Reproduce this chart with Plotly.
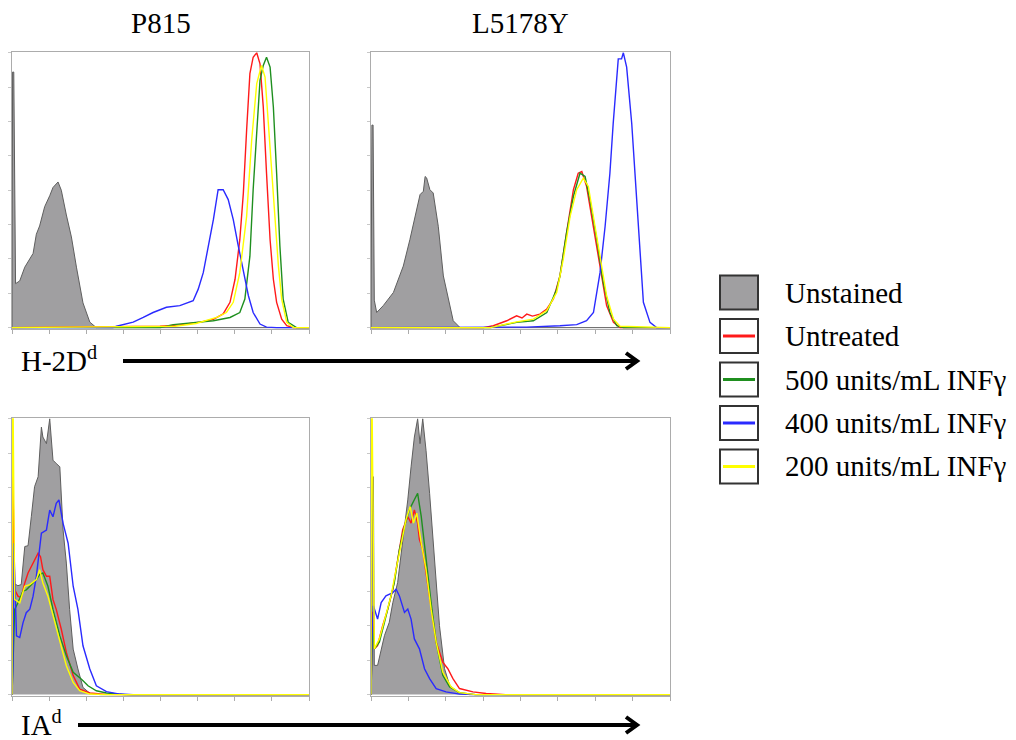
import plotly.graph_objects as go

# ---------------- data (x: channel position 0-100, y: % of max count) ----------------
SERIES = ["Unstained", "Untreated", "500 units/mL INFγ", "400 units/mL INFγ", "200 units/mL INFγ"]
CELL_LINES = ["P815", "L5178Y"]
MARKERS = ["H-2D<sup>d</sup>", "IA<sup>d</sup>"]

# Panel: P815, H-2Dd
P815_H2D_UNST_X = [0, 0.2, 0.6, 1.2, 2.6, 4.3, 7.1, 8.2, 9.3, 11, 12.7, 13.8, 15.5, 16.6, 18.3, 20, 21.7, 23.9, 26.2, 28.4, 100]
P815_H2D_UNST_Y = [0, 93, 93, 16, 17, 22, 27, 34, 37, 44, 48, 51, 53, 50, 41, 33, 22, 9, 2, 0, 0]
P815_H2D_UNTR_X = [0, 49.8, 56.5, 63.3, 67.8, 71.1, 73.4, 75.1, 76.7, 77.9, 79, 80.1, 81.2, 82.4, 83.5, 84.6, 85.7, 86.9, 88, 89.1, 90.8, 92.5, 94.7, 100]
P815_H2D_UNTR_Y = [0, 0.5, 1, 2, 3, 5, 9.2, 17.6, 32, 49, 71.9, 92.4, 98.4, 100, 96, 80.4, 56.2, 32, 17.6, 9.2, 3.1, 0.7, 0, 0]
P815_H2D_500_X = [0, 50, 54.3, 61, 67.8, 73.4, 76.7, 78.4, 80.1, 81.2, 82.4, 83.5, 84.6, 85.7, 86.9, 88, 89.1, 90.2, 91.3, 93, 95.8, 100]
P815_H2D_500_Y = [0, 0, 1.1, 1.7, 2.5, 3.7, 5.5, 10.4, 26, 50.2, 71.9, 90, 95.4, 98.4, 94.8, 80.3, 56.2, 29.7, 10.4, 1.9, 0, 0]
P815_H2D_400_X = [0, 34, 35.2, 40.8, 44.2, 47.5, 52, 56.5, 61, 62.7, 64.4, 66.1, 67.8, 69.4, 71.1, 72.8, 74.5, 76.2, 77.9, 79.6, 81.2, 83.5, 85.7, 89.1, 100]
P815_H2D_400_Y = [0, 0, 0.5, 2, 3.7, 5.5, 7.4, 8, 9.8, 14, 20, 29.7, 39.3, 50.2, 50.2, 46.6, 39.3, 29.7, 20, 11.6, 5.5, 1.3, 0.2, 0, 0]
P815_H2D_200_X = [0, 55, 62, 68.9, 72.2, 74.5, 76.7, 79, 80.7, 82.4, 84, 85.2, 86.3, 88, 89.7, 90.8, 92.5, 94.7, 100]
P815_H2D_200_Y = [0, 0.5, 1.5, 3.7, 5.5, 9.2, 20, 40.5, 68.3, 88.8, 95.4, 91.2, 74.5, 50.2, 22.4, 10.4, 1.9, 0, 0]

# Panel: L5178Y, H-2Dd
L5178Y_H2D_UNST_X = [0, 0.3, 0.7, 1.1, 1.9, 4.1, 7.5, 10.8, 13, 14.7, 16.4, 17.5, 18.1, 18.6, 19.7, 20.8, 22.5, 24.2, 25.9, 27.5, 29.8, 100]
L5178Y_H2D_UNST_Y = [0, 73.7, 73.7, 10, 5.5, 8, 12.8, 22.4, 32, 40.5, 48.4, 49.6, 55, 54.5, 50.2, 49, 36.9, 18.8, 10.4, 2.5, 0, 0]
L5178Y_H2D_UNTR_X = [0, 37.6, 40.9, 45.4, 48.7, 50.5, 52.1, 54, 56.5, 58.8, 61, 63.2, 65.4, 67.7, 69.3, 70.5, 72.1, 74.4, 76.6, 78.8, 81.1, 83.3, 100]
L5178Y_H2D_UNTR_Y = [0, 0, 0.7, 2.5, 4.3, 3.5, 4.9, 4.2, 4.9, 6.8, 10.4, 18.8, 34.5, 50.2, 56.2, 56.8, 51.4, 36.9, 22.4, 8, 1.9, 0, 0]
L5178Y_H2D_500_X = [0, 40, 48.7, 54.3, 58.8, 62.1, 63.2, 65.4, 67.7, 69.9, 71.6, 73.2, 75.5, 77.7, 79.9, 82.2, 84.4, 100]
L5178Y_H2D_500_Y = [0, 0, 1.9, 2.5, 5.5, 14, 18.8, 34.5, 47.8, 56.2, 55, 46.6, 32, 16.4, 5.5, 0.7, 0, 0]
L5178Y_H2D_400_X = [0, 45, 52.1, 63.2, 68.8, 72.1, 74.4, 76.6, 78.3, 79.9, 81, 82.7, 83.8, 84.4, 85.5, 87.2, 88.9, 91.1, 93.3, 95.5, 100]
L5178Y_H2D_400_Y = [0, 0, 0.2, 0.7, 1.1, 2.5, 5.5, 20, 36.9, 56.2, 74.3, 97.8, 97.8, 100, 94.8, 74.3, 44.7, 9.2, 1.9, 0, 0]
L5178Y_H2D_200_X = [0, 40, 48.7, 54.3, 58.8, 62.1, 64.3, 66.6, 68.8, 71, 72.7, 74.4, 76.6, 78.8, 81.1, 83.3, 100]
L5178Y_H2D_200_Y = [0, 0, 2.1, 3.1, 6.2, 12.8, 24.8, 40.5, 50.2, 54.4, 51.4, 40.5, 26, 11.6, 3.1, 0.5, 0]

# Panel: P815, IAd
P815_IA_UNST_X = [0, 0.3, 2, 3.1, 4.3, 5.4, 6.5, 7.6, 8.8, 9.9, 10.4, 11.6, 12.7, 13.8, 14.9, 16.1, 17.2, 18.3, 19.4, 20.6, 22.2, 23.9, 26.2, 29.6, 100]
P815_IA_UNST_Y = [0, 40.5, 39.5, 39.9, 53.7, 54, 64.5, 75.4, 79, 97, 93.4, 91, 100, 85, 83.8, 82.6, 59.7, 47.7, 30.9, 16.5, 9.3, 2.6, 0.5, 0, 0]
P815_IA_UNTR_X = [0, 0.3, 0.9, 2, 3.1, 4.3, 5.4, 6.5, 7.6, 8.8, 9.6, 10.4, 11.6, 12.7, 13.8, 14.9, 16.6, 18.3, 20.6, 22.8, 26.2, 31.8, 40, 100]
P815_IA_UNTR_Y = [0, 79, 38.1, 35.7, 35.1, 40.5, 44.1, 46.5, 48.9, 51.3, 50, 45.3, 42.9, 42.9, 34.5, 30.9, 23.7, 15.3, 6.9, 2, 0.6, 0.1, 0, 0]
P815_IA_500_X = [0, 0.9, 2, 3.7, 4.8, 6.5, 8.2, 9.3, 10.4, 12.1, 13.8, 16.1, 18.3, 20.6, 23.4, 25.6, 28.4, 31.8, 38, 100]
P815_IA_500_Y = [0, 30.9, 33.3, 37.5, 38, 39.9, 41.7, 43.5, 44.1, 39.3, 30.9, 21.3, 14.1, 8.1, 5.6, 3.2, 1.4, 0.6, 0, 0]
P815_IA_400_X = [0, 0.3, 0.6, 1.5, 2.6, 3.7, 4.8, 6, 7.1, 8.2, 9.9, 11.6, 12.7, 13.8, 14.9, 15.8, 17.2, 18.9, 20.6, 22.2, 23.9, 26.2, 28.4, 31.8, 36.3, 40.8, 100]
P815_IA_400_Y = [0, 10, 54.9, 21.3, 20.7, 26, 29.7, 31, 35.7, 42.9, 58.5, 59.7, 66.9, 64.5, 69.4, 70.6, 62.1, 54.9, 39.3, 30.9, 17.7, 9.3, 3.2, 1.1, 0.2, 0, 0]
P815_IA_200_X = [0, 0.1, 0.4, 0.9, 2.6, 4.3, 6, 8.2, 9.3, 10.4, 12.1, 13.8, 16.1, 18.3, 20.6, 22.8, 26.2, 32, 100]
P815_IA_200_Y = [0, 100, 100, 34.5, 33.3, 39.3, 39.9, 41.7, 45.3, 40.5, 35.7, 28.5, 18.9, 10.5, 4.4, 1.4, 0.2, 0, 0]

# Panel: L5178Y, IAd
L5178Y_IA_UNST_X = [0, 0.5, 0.8, 1.1, 2.2, 3.4, 4.5, 6.1, 7.3, 8.9, 10.6, 12.3, 13.4, 14.5, 15.6, 16.4, 17.3, 18.4, 19.6, 21.2, 22.9, 24.6, 26.3, 29.6, 33, 100]
L5178Y_IA_UNST_Y = [0, 79, 79, 10.6, 10.6, 16.6, 21.4, 26.2, 33.4, 40.6, 55, 70.6, 82.6, 93.4, 100, 91, 100, 88.6, 73, 49, 25, 9.4, 3.4, 0.4, 0, 0]
L5178Y_IA_UNTR_X = [0, 0.5, 1.1, 2.2, 3.9, 5.6, 7.3, 8.9, 10.6, 12.3, 13.4, 14.5, 15.6, 16.2, 17.3, 18.4, 20.1, 21.8, 24, 25.7, 27.4, 29.6, 34.1, 38.5, 45, 100]
L5178Y_IA_UNTR_Y = [0, 30, 16.6, 17.8, 25, 31, 38.2, 49, 59.8, 64.6, 62.2, 67, 62, 56.2, 52.6, 44.2, 31, 19, 11.8, 9.4, 5.8, 2.2, 1, 0.4, 0, 0]
L5178Y_IA_500_X = [0, 0.5, 1.1, 2.8, 4.5, 6.1, 7.8, 9.5, 11.2, 12.8, 14.5, 15.6, 16.8, 18.4, 20.1, 21.8, 24, 26.3, 29.6, 35, 100]
L5178Y_IA_500_Y = [0, 25, 16.6, 19, 26.2, 33.4, 40.6, 52.6, 61, 67, 70.6, 73, 64.6, 49, 33.4, 19, 7, 2.8, 0.7, 0, 0]
L5178Y_IA_400_X = [0, 0.3, 0.8, 2.2, 3.4, 5, 7.3, 8.4, 9.5, 11.2, 12.3, 13.4, 14.5, 16.2, 17.9, 19.6, 21.8, 25.1, 29.6, 35, 100]
L5178Y_IA_400_Y = [0, 20, 32.2, 27.4, 33.4, 35.8, 37, 38.2, 35.8, 29.8, 31, 27.4, 20.2, 16.6, 9.4, 5.8, 2.2, 1, 0.2, 0, 0]
L5178Y_IA_200_X = [0, 0.1, 0.4, 1.1, 2.8, 5, 6.7, 8.4, 10.1, 11.7, 13.1, 14.2, 15.3, 16.8, 18.4, 20.1, 21.8, 24, 26.8, 29.6, 35, 100]
L5178Y_IA_200_Y = [0, 100, 100, 16.6, 20.2, 28.6, 35.8, 45.4, 55, 63.4, 68.2, 62.2, 65.8, 55, 45.4, 31, 19, 8.2, 2.8, 0.7, 0, 0]

# ---------------- styling ----------------
W, H = 1016, 740
FONT = "Liberation Serif, Times New Roman, serif"
COLORS = ["#a09fa1", "#ff1a1a", "#1f8f1f", "#2a2aff", "#ffff00"]
GRAY_EDGE = "#5e5e5e"
FRAME = "#acacac"

panels = [
    # (xaxis id, yaxis id, x-domain px, y-domain px, list of (x, y) per series)
    ("x", "y", (12, 309), (52, 329), [
        (P815_H2D_UNST_X, P815_H2D_UNST_Y), (P815_H2D_UNTR_X, P815_H2D_UNTR_Y),
        (P815_H2D_500_X, P815_H2D_500_Y), (P815_H2D_400_X, P815_H2D_400_Y),
        (P815_H2D_200_X, P815_H2D_200_Y)]),
    ("x2", "y2", (371, 670), (52, 329), [
        (L5178Y_H2D_UNST_X, L5178Y_H2D_UNST_Y), (L5178Y_H2D_UNTR_X, L5178Y_H2D_UNTR_Y),
        (L5178Y_H2D_500_X, L5178Y_H2D_500_Y), (L5178Y_H2D_400_X, L5178Y_H2D_400_Y),
        (L5178Y_H2D_200_X, L5178Y_H2D_200_Y)]),
    ("x3", "y3", (12, 309), (418, 696), [
        (P815_IA_UNST_X, P815_IA_UNST_Y), (P815_IA_UNTR_X, P815_IA_UNTR_Y),
        (P815_IA_500_X, P815_IA_500_Y), (P815_IA_400_X, P815_IA_400_Y),
        (P815_IA_200_X, P815_IA_200_Y)]),
    ("x4", "y4", (371, 670), (418, 696), [
        (L5178Y_IA_UNST_X, L5178Y_IA_UNST_Y), (L5178Y_IA_UNTR_X, L5178Y_IA_UNTR_Y),
        (L5178Y_IA_500_X, L5178Y_IA_500_Y), (L5178Y_IA_400_X, L5178Y_IA_400_Y),
        (L5178Y_IA_200_X, L5178Y_IA_200_Y)]),
]


def px(x):
    return x / W


def py(y):
    return 1 - y / H


fig = go.Figure()
layout = dict(
    width=W, height=H, margin=dict(l=0, r=0, t=0, b=0),
    paper_bgcolor="white", plot_bgcolor="white", showlegend=False,
    font=dict(family=FONT, color="black"),
)

for i, (xa, ya, (x0, x1), (y0, y1), series) in enumerate(panels):
    for k, (xs, ys) in enumerate(series):
        if k == 0:
            fig.add_trace(go.Scatter(x=xs, y=ys, xaxis=xa, yaxis=ya, mode="lines",
                                     fill="tozeroy", fillcolor=COLORS[0],
                                     line=dict(color=GRAY_EDGE, width=1), name=SERIES[k],
                                     hoverinfo="skip"))
        else:
            fig.add_trace(go.Scatter(x=xs, y=ys, xaxis=xa, yaxis=ya, mode="lines",
                                     line=dict(color=COLORS[k], width=1.4), name=SERIES[k],
                                     hoverinfo="skip"))
    suffix = "" if i == 0 else str(i + 1)
    layout["xaxis" + suffix] = dict(
        domain=[px(x0), px(x1)], range=[0, 100], anchor=ya,
        showline=True, mirror=True, linecolor=FRAME, linewidth=1,
        ticks="outside", ticklen=4, tickcolor=FRAME, tickwidth=1,
        tick0=0, dtick=12.5, showticklabels=False, showgrid=False, zeroline=False,
    )
    layout["yaxis" + suffix] = dict(
        domain=[py(y1), py(y0)], range=[-0.5, 100.3], anchor=xa,
        showline=True, mirror=True, linecolor=FRAME, linewidth=1,
        ticks="outside", ticklen=3, tickcolor="#c8c8c8", tickwidth=1,
        tick0=0, dtick=12.5, showticklabels=False, showgrid=False, zeroline=False,
    )

fig.update_layout(**layout)

annotations = []
shapes = []
FS = 29

# column titles
for name, (x0, x1) in zip(CELL_LINES, [(12, 309), (371, 670)]):
    annotations.append(dict(text=name, x=px((x0 + x1) / 2), y=py(23), xref="paper", yref="paper",
                            xanchor="center", yanchor="middle", showarrow=False,
                            font=dict(size=FS, family=FONT, color="black")))

# marker labels + arrows
for name, ty, ax0 in zip(MARKERS, [359, 723], [123, 78]):
    annotations.append(dict(text=name, x=px(19), y=py(ty), xref="paper", yref="paper",
                            xanchor="left", yanchor="middle", showarrow=False,
                            font=dict(size=FS, family=FONT, color="black")))
    ay = ty + 2
    shapes.append(dict(type="line", xref="paper", yref="paper",
                       x0=px(ax0), x1=px(637), y0=py(ay), y1=py(ay),
                       line=dict(color="black", width=4)))
    shapes.append(dict(type="path", xref="paper", yref="paper",
                       path=f"M {px(626)} {py(ay - 8)} L {px(637)} {py(ay)} L {px(626)} {py(ay + 8)}",
                       line=dict(color="black", width=4)))

# legend
row_centers = [292.5, 336, 379.5, 423, 466.5]
for k, (name, yc) in enumerate(zip(SERIES, row_centers)):
    shapes.append(dict(type="rect", xref="paper", yref="paper",
                       x0=px(720), x1=px(758), y0=py(yc + 17), y1=py(yc - 17),
                       line=dict(color="#333333", width=2),
                       fillcolor=COLORS[0] if k == 0 else "white"))
    if k > 0:
        shapes.append(dict(type="line", xref="paper", yref="paper",
                           x0=px(723), x1=px(755), y0=py(yc), y1=py(yc),
                           line=dict(color=COLORS[k], width=3)))
    annotations.append(dict(text=name, x=px(783), y=py(yc), xref="paper", yref="paper",
                            xanchor="left", yanchor="middle", showarrow=False,
                            font=dict(size=FS, family=FONT, color="black")))

fig.update_layout(annotations=annotations, shapes=shapes)
fig.write_html("out.html")
